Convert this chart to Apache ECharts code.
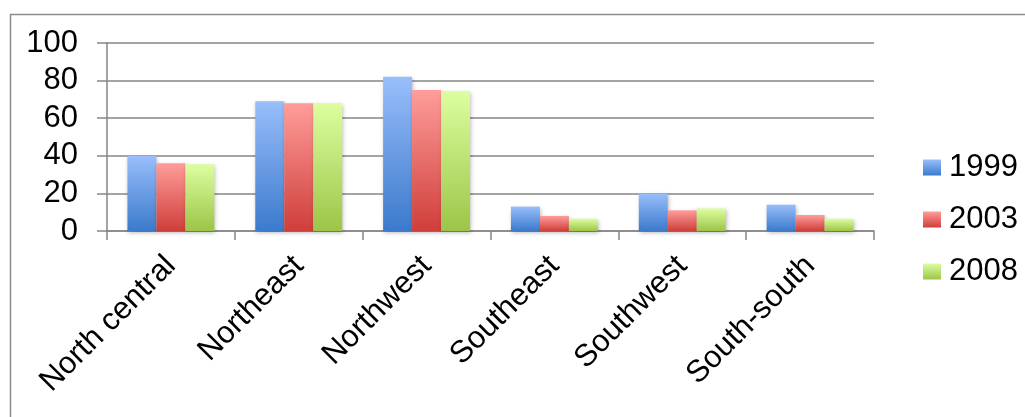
<!DOCTYPE html>
<html>
<head>
<meta charset="utf-8">
<script src="https://cdn.jsdelivr.net/npm/echarts@6/dist/echarts.min.js"></script>
<style>
  html, body { margin: 0; padding: 0; background: #fff; }
  #chart { width: 1025px; height: 417px; }
</style>
</head>
<body>
<div id="chart"></div>
<script>
// Regions along the category axis
const regions = ['North central', 'Northeast', 'Northwest', 'Southeast', 'Southwest', 'South-south'];

// Values per survey year
const y1999 = [40, 69, 82, 13, 20, 14];
const y2003 = [36, 68, 75, 8, 11, 8.5];
const y2008 = [35.5, 68, 74.5, 6.5, 12, 6.5];

const yearNames = ['1999', '2003', '2008'];

// Value-axis ticks
const yTicks = [0, 20, 40, 60, 80, 100];

const FONT = '"Liberation Sans", Arial, sans-serif';
const FONT_SIZE = 31;
const AXIS_GREY = '#868686';

function grad(top, bottom) {
  return new echarts.graphic.LinearGradient(0, 0, 0, 1, [
    { offset: 0, color: top },
    { offset: 1, color: bottom }
  ]);
}

const fills = [
  grad('#99befb', '#3b7acc'),
  grad('#ff9d9a', '#cf3e3a'),
  grad('#ddfe9f', '#9cc548')
];

const seriesData = [y1999, y2003, y2008];

const chart = echarts.init(document.getElementById('chart'), null, { renderer: 'canvas' });

chart.setOption({
  animation: false,
  backgroundColor: '#ffffff',
  textStyle: { fontFamily: FONT },
  graphic: [{
    type: 'rect',
    left: 8, top: 12,
    shape: { width: 1100, height: 500 },
    style: { fill: 'none', stroke: '#8c8c8c', lineWidth: 1.5 },
    silent: true
  }],
  grid: { left: 107, right: 151, top: 43, bottom: 186, containLabel: false },
  legend: {
    orient: 'vertical',
    left: 918,
    top: 147,
    itemWidth: 18,
    itemHeight: 16,
    itemGap: 21,
    icon: 'rect',
    data: yearNames,
    textStyle: { fontFamily: FONT, fontSize: FONT_SIZE, color: '#000', lineHeight: 30, padding: [0, 0, 0, 3] }
  },
  xAxis: {
    type: 'category',
    data: regions,
    axisLine: { show: true, lineStyle: { color: AXIS_GREY, width: 1.5 } },
    axisTick: { show: true, length: 9, lineStyle: { color: AXIS_GREY, width: 1.5 } },
    axisLabel: {
      rotate: 45,
      margin: 30,
      fontFamily: FONT,
      fontSize: FONT_SIZE,
      color: '#000',
      interval: 0
    }
  },
  yAxis: {
    type: 'value',
    min: yTicks[0],
    max: yTicks[yTicks.length - 1],
    interval: yTicks[1] - yTicks[0],
    axisLine: { show: true, lineStyle: { color: AXIS_GREY, width: 1.5 } },
    axisTick: { show: true, length: 10, lineStyle: { color: AXIS_GREY, width: 1.5 } },
    splitLine: { show: true, lineStyle: { color: AXIS_GREY, width: 1.5 } },
    axisLabel: {
      margin: 29,
      fontFamily: FONT,
      fontSize: FONT_SIZE,
      color: '#000'
    }
  },
  series: seriesData.map((vals, i) => ({
    name: yearNames[i],
    type: 'bar',
    data: vals,
    barGap: '0%',
    barCategoryGap: '32%',
    itemStyle: {
      color: fills[i],
      shadowColor: 'rgba(0,0,0,0.25)',
      shadowBlur: 4,
      shadowOffsetY: 2,
      shadowOffsetX: 1
    }
  }))
});
</script>
</body>
</html>
